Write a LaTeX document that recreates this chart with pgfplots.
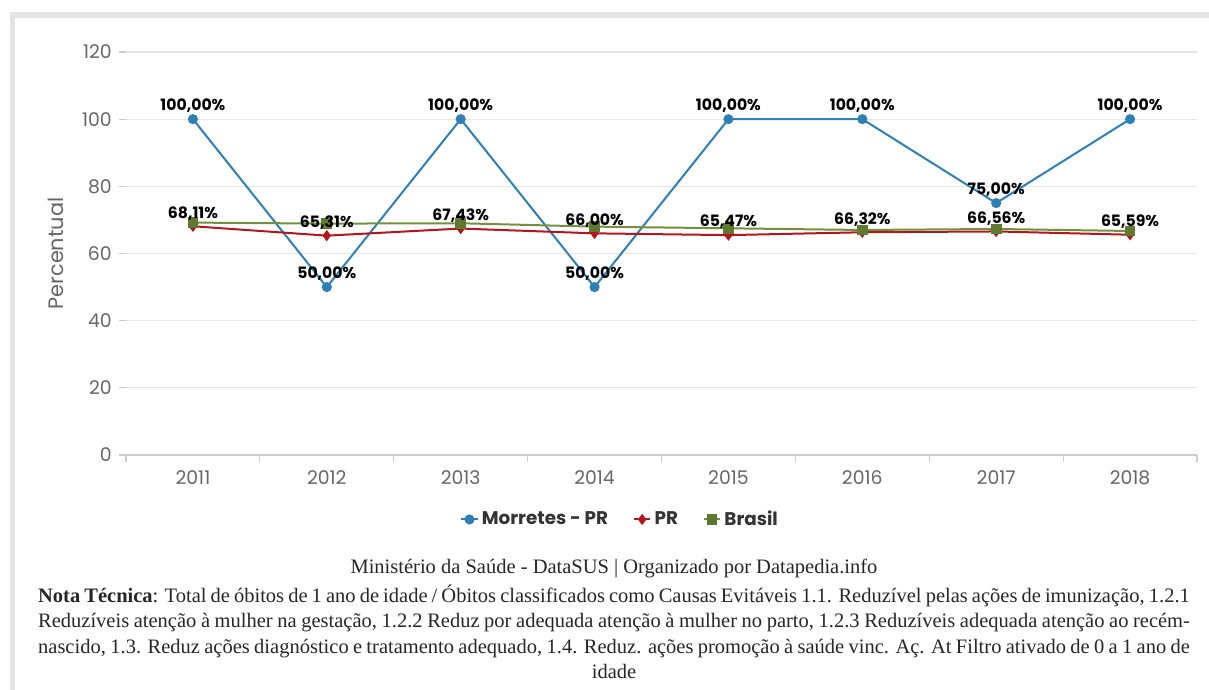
\documentclass[border=0pt]{standalone}
\usepackage{pgfplots}
\pgfplotsset{compat=1.18}
\usepackage{fontspec}
\setmainfont{Liberation Serif}
\newfontfamily\poppins{Poppins}

\definecolor{mblue}{HTML}{2F7FB4}
\definecolor{pred}{HTML}{B3161F}
\definecolor{bgreen}{HTML}{72903E}
\definecolor{bgreenmark}{HTML}{5F7A30}
\definecolor{tickgray}{HTML}{666666}
\definecolor{gridgray}{HTML}{E6E6E6}
\definecolor{framegray}{HTML}{E4E4E4}

\begin{document}
\begin{tikzpicture}
% page and card frame
\path[use as bounding box] (0,0) rectangle (725.4pt,414pt);
\fill[framegray] (6pt,403.2pt) rectangle (725.4pt,406.8pt);
\fill[framegray] (6pt,0pt) rectangle (9pt,406.8pt);

\begin{axis}[
  at={(75.6pt,141pt)}, anchor=south west,
  width=642.6pt, height=241.8pt, scale only axis,
  xmin=-0.5, xmax=7.5, ymin=0, ymax=120,
  axis x line*=bottom, axis y line*=left,
  x axis line style={draw=black!20, line width=0.8pt, -},
  y axis line style={draw=none},
  xtick={-0.5,0.5,...,7.5}, xticklabels={},
  extra x ticks={0,1,2,3,4,5,6,7},
  extra x tick labels={2011,2012,2013,2014,2015,2016,2017,2018},
  extra x tick style={major tick length=0pt, grid=none},
  ytick={0,20,...,120},
  tick align=outside, major tick length=4pt,
  tick style={draw=black!20, line width=0.7pt},
  ymajorgrids, grid style={draw=gridgray, line width=0.7pt},
  tick label style={font=\poppins\fontsize{11.3}{13}\selectfont, text=tickgray},
  yticklabel style={xshift=-1pt},
  xticklabel style={yshift=-6pt},
  /pgf/number format/assume math mode=true,
  ylabel={Percentual},
  y label style={at={(axis description cs:0,0.5)}, anchor=center, yshift=42pt,
    font=\poppins\fontsize{12.5}{14}\selectfont, text=tickgray},
  legend style={at={(0.462,-0.16)}, anchor=center, legend columns=-1, draw=none, fill=none,
    font=\poppins\bfseries\fontsize{11}{13}\selectfont, text=black!80,
    /tikz/every even column/.append style={column sep=13pt}},
  legend image code/.code={\draw[mark repeat=2,mark phase=2] plot coordinates {(0cm,0cm) (0.17cm,0cm) (0.34cm,0cm)};},
  every node near coord/.append style={font=\poppins\bfseries\fontsize{9.4}{11}\selectfont, text=black, inner sep=2pt, yshift=1.5pt},
  clip=false,
]
\addplot[color=mblue, line width=1.2pt, mark=*, mark size=2.4pt,
  nodes near coords={\pgfmathprintnumber[fixed,fixed zerofill,precision=2,use comma]{\pgfplotspointmeta}\%}]
  coordinates {
    (0,100) (1,50) (2,100) (3,50) (4,100) (5,100) (6,75) (7,100)
  };
\addlegendentry{Morretes - PR}
\addplot[color=pred, line width=1.2pt, mark=diamond*, mark size=2.4pt]
  coordinates {
    (0,68.11) (1,65.31) (2,67.43) (3,66.00) (4,65.47) (5,66.32) (6,66.56) (7,65.59)
  };
\addlegendentry{PR}
\addplot[color=bgreen, line width=1.2pt, mark=square*, mark size=2.6pt,
  mark options={fill=bgreenmark, draw=bgreenmark}]
  coordinates {
    (0,69.2) (1,68.9) (2,69.0) (3,68.0) (4,67.5) (5,67.0) (6,67.3) (7,66.7)
  };
\addlegendentry{Brasil}
% PR value labels, drawn last so that they sit above the lines
\addplot[draw=none, forget plot,
  nodes near coords={\pgfmathprintnumber[fixed,fixed zerofill,precision=2,use comma]{\pgfplotspointmeta}\%}]
  coordinates {
    (0,68.11) (1,65.31) (2,67.43) (3,66.00) (4,65.47) (5,66.32) (6,66.56) (7,65.59)
  };
\end{axis}

% source and technical note
\begin{scope}[every node/.style={inner sep=0pt, anchor=base, text=black!85, font=\fontsize{12.3}{14}\selectfont}]
\node at (368.4pt,70pt) {Ministério da Saúde - DataSUS | Organizado por Datapedia.info};
\node at (368.4pt,52.6pt) {\makebox[691pt][s]{\textbf{Nota Técnica}: Total de óbitos de 1 ano de idade / Óbitos classificados como Causas Evitáveis 1.1. Reduzível pelas ações de imunização, 1.2.1}};
\node at (368.4pt,37.6pt) {\makebox[691pt][s]{Reduzíveis atenção à mulher na gestação, 1.2.2 Reduz por adequada atenção à mulher no parto, 1.2.3 Reduzíveis adequada atenção ao recém-}};
\node at (368.4pt,22pt) {\makebox[691pt][s]{nascido, 1.3. Reduz ações diagnóstico e tratamento adequado, 1.4. Reduz. ações promoção à saúde vinc. Aç. At Filtro ativado de 0 a 1 ano de}};
\node at (368.4pt,7pt) {idade};
\end{scope}
\end{tikzpicture}
\end{document}
